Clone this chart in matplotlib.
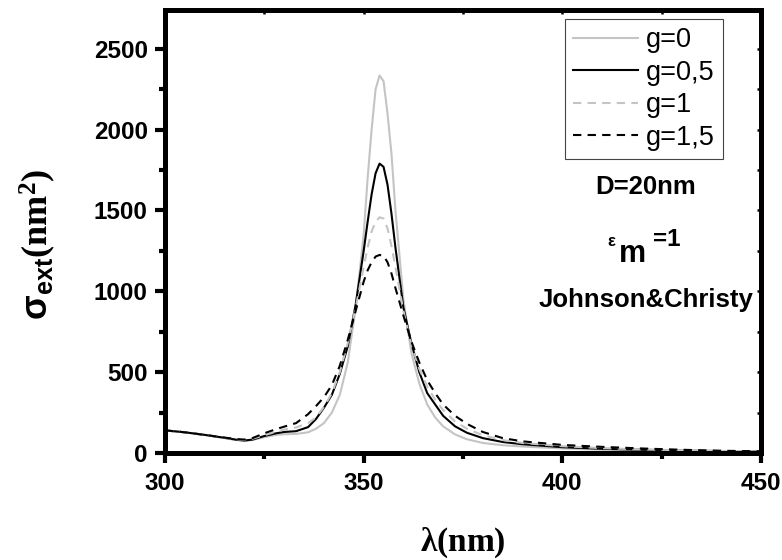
import matplotlib
matplotlib.use("Agg")
import matplotlib.pyplot as plt
from matplotlib.ticker import MultipleLocator, NullFormatter

plt.rcParams['mathtext.fontset'] = 'custom'
plt.rcParams['mathtext.bf'] = 'Liberation Serif:bold'
plt.rcParams['mathtext.rm'] = 'Liberation Serif:bold'
plt.rcParams['mathtext.sf'] = 'Liberation Sans:bold'
plt.rcParams['font.family'] = ['Liberation Sans', 'DejaVu Sans']

wavelength = [300, 305, 310, 315, 318, 320, 322, 325, 328, 330, 333, 336, 338, 340, 342, 344, 346, 348,
              350, 351, 352, 353, 354, 355, 356, 357, 358, 360, 362, 364, 366, 368,
              370, 373, 376, 380, 385, 390, 400, 410, 420, 430, 440, 450]

g0 = [140, 128, 112, 92, 80, 76, 80, 98, 112, 116, 118, 128, 150, 185, 250, 360, 560, 900,
      1350, 1700, 2000, 2250, 2335, 2300, 2100, 1850, 1500, 950, 620, 430, 300, 220,
      165, 115, 85, 62, 48, 40, 28, 20, 16, 12, 10, 8]

g05 = [140, 128, 112, 94, 82, 77, 83, 105, 122, 130, 135, 160, 210, 280, 360, 490, 660, 920,
       1250, 1430, 1600, 1730, 1790, 1770, 1660, 1480, 1270, 900, 680, 500, 370, 300,
       230, 165, 125, 92, 68, 54, 36, 26, 20, 15, 12, 10]

g1 = [140, 128, 112, 94, 84, 80, 88, 110, 132, 145, 158, 185, 220, 285, 370, 500, 680, 900,
      1150, 1270, 1370, 1430, 1458, 1450, 1390, 1280, 1150, 880, 670, 520, 410, 330,
      265, 195, 150, 110, 80, 62, 42, 30, 22, 17, 13, 10]

g15 = [140, 128, 112, 95, 86, 83, 92, 122, 148, 163, 185, 240, 290, 345, 420, 540, 700, 880,
       1060, 1130, 1180, 1215, 1225, 1220, 1180, 1110, 1020, 850, 690, 560, 450, 370,
       300, 230, 180, 130, 92, 72, 50, 38, 28, 20, 14, 10]

labels = ['g=0', 'g=0,5', 'g=1', 'g=1,5']

fig = plt.figure(figsize=(7.82, 5.6), dpi=100)
ax = fig.add_axes([165/782, 1-453/560, (761-165)/782, (453-10)/560])

grey = '#c4c4c4'
ax.plot(wavelength, g0, color=grey, lw=1.5, label=labels[0])
ax.plot(wavelength, g05, color='black', lw=1.5, label=labels[1])
ax.plot(wavelength, g1, color=grey, lw=1.5, dashes=(4, 3), label=labels[2])
ax.plot(wavelength, g15, color='black', lw=1.5, dashes=(4, 3), label=labels[3])

ax.set_xlim(300, 450)
ax.set_ylim(0, 2740)
ax.xaxis.set_major_locator(MultipleLocator(50))
ax.xaxis.set_minor_locator(MultipleLocator(25))
ax.yaxis.set_major_locator(MultipleLocator(500))
ax.yaxis.set_minor_locator(MultipleLocator(250))

for sp in ax.spines.values():
    sp.set_linewidth(3.5)

ax.tick_params(axis='both', which='major', direction='out', length=7.5, width=3,
               labelsize=17.5, pad=5, bottom=True, left=True, top=False, right=False)
ax.tick_params(axis='both', which='minor', direction='out', length=4, width=3,
               bottom=True, left=True, top=False, right=False)
ax.tick_params(axis='x', which='major', pad=6)
for lab in ax.get_xticklabels() + ax.get_yticklabels():
    lab.set_fontweight('bold')

# small ticks on top and right through twin axes sharing the limits
axr = ax.twinx()
axr.set_ylim(ax.get_ylim())
axr.yaxis.set_major_locator(MultipleLocator(250))
axr.yaxis.set_major_formatter(NullFormatter())
axr.tick_params(axis='y', direction='in', length=3, width=1.8)
axt = ax.twiny()
axt.set_xlim(ax.get_xlim())
axt.xaxis.set_major_locator(MultipleLocator(25))
axt.xaxis.set_major_formatter(NullFormatter())
axt.tick_params(axis='x', direction='in', length=3, width=1.8)
for a in (axr, axt):
    for sp in a.spines.values():
        sp.set_linewidth(3.5)

ax.set_xlabel(r'$\mathbf{λ(nm)}$', fontsize=24, labelpad=22)
fig.text(38/782, 1-244/560, r'$\mathsf{σ_{ext}}\mathbf{(nm^{2})}$', fontsize=26,
         rotation=90, ha='center', va='center')

leg = ax.legend(loc='upper right', bbox_to_anchor=((723-165)/596, (453-19)/443),
                borderaxespad=0, fontsize=19.5, frameon=True, fancybox=False,
                edgecolor='#444444', framealpha=1, handlelength=2.4,
                handletextpad=0.3, labelspacing=0.24, borderpad=0.3)
leg.get_frame().set_linewidth(0.8)
leg.set_zorder(10)

def fx(px):
    return (px - 165) / 596

def fy(py):
    return (453 - py) / 443

ax.text(fx(646), fy(187), 'D=20nm', fontsize=18.5, fontweight='bold',
        ha='center', va='center', transform=ax.transAxes)
ax.text(fx(607), fy(246), 'ε', fontsize=12, fontweight='bold',
        ha='left', va='baseline', transform=ax.transAxes)
ax.text(fx(619), fy(262), 'm', fontsize=22, fontweight='bold',
        ha='left', va='baseline', transform=ax.transAxes)
ax.text(fx(653), fy(246), '=1', fontsize=17.5, fontweight='bold',
        ha='left', va='baseline', transform=ax.transAxes)
ax.text(fx(646), fy(300), 'Johnson&Christy', fontsize=18.5, fontweight='bold',
        ha='center', va='center', transform=ax.transAxes)

fig.savefig('out.png', dpi=100)
